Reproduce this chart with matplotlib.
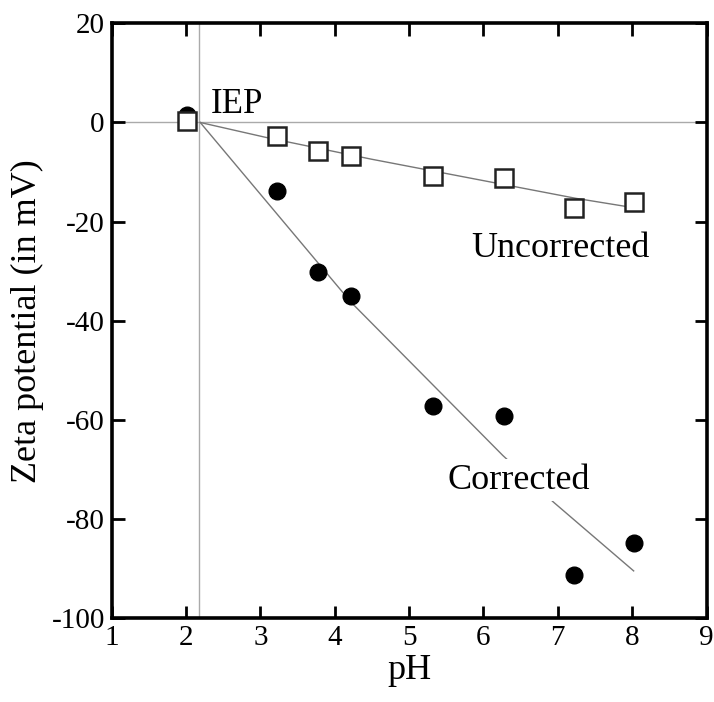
import matplotlib
matplotlib.use("Agg")
import matplotlib.pyplot as plt

ph = [2.01, 3.22, 3.77, 4.22, 5.32, 6.28, 7.22, 8.02]
uncorrected = [0.3, -2.8, -5.7, -6.7, -10.9, -11.2, -17.3, -16.1]
corrected = [1.5, -13.8, -30.1, -35.1, -57.3, -59.3, -91.3, -84.9]
iep = 2.18
fit_uncorr_x = [2.19, 3.07, 4.49, 6.30, 7.24, 8.02]
fit_uncorr_y = [0.0, -3.0, -7.4, -12.6, -15.3, -17.2]
fit_corr_x = [2.19, 4.22, 6.26, 6.94, 8.02]
fit_corr_y = [0.0, -36.3, -67.2, -76.6, -90.5]
xticks = [1, 2, 3, 4, 5, 6, 7, 8, 9]
yticks = [20, 0, -20, -40, -60, -80, -100]

plt.rcParams['font.family'] = ['Liberation Serif', 'DejaVu Serif']
plt.rcParams['axes.unicode_minus'] = False
fig = plt.figure(figsize=(7.14, 7.02), dpi=100)
ax = fig.add_axes([0.1565, 0.1197, 0.833, 0.847])

ax.axhline(0, color='#aaaaaa', lw=1.0, zorder=1)
ax.axvline(iep, color='#aaaaaa', lw=1.0, zorder=1)

ax.plot(fit_uncorr_x, fit_uncorr_y, color='#777777', lw=1.0, zorder=2)
ax.plot(fit_corr_x, fit_corr_y, color='#777777', lw=1.0, zorder=2)

ax.plot(ph, corrected, 'o', color='black', ms=12, zorder=3)
ax.plot(ph, uncorrected, 's', mfc='white', mec='#222222', mew=1.8, ms=13, zorder=4)

ax.text(2.33, 2.0, 'IEP', fontsize=25, ha='left', va='baseline', zorder=5)
ax.text(7.03, -27.2, 'Uncorrected', fontsize=26, ha='center', va='baseline', zorder=5)
ax.text(6.47, -73.9, 'Corrected', fontsize=26, ha='center', va='baseline', zorder=5,
        bbox=dict(facecolor='white', edgecolor='none', pad=3))

ax.set_xlim(1, 9)
ax.set_ylim(-100, 20)
ax.set_xticks(xticks)
ax.set_yticks(yticks)
ax.tick_params(direction='in', length=9, width=2, labelsize=21, top=True, right=True,
               pad=5)
for s in ax.spines.values():
    s.set_linewidth(2.6)
ax.set_xlabel('pH', fontsize=26, labelpad=2)
ax.set_ylabel('Zeta potential (in mV)', fontsize=26, labelpad=5)

fig.savefig('out.png', dpi=100)
